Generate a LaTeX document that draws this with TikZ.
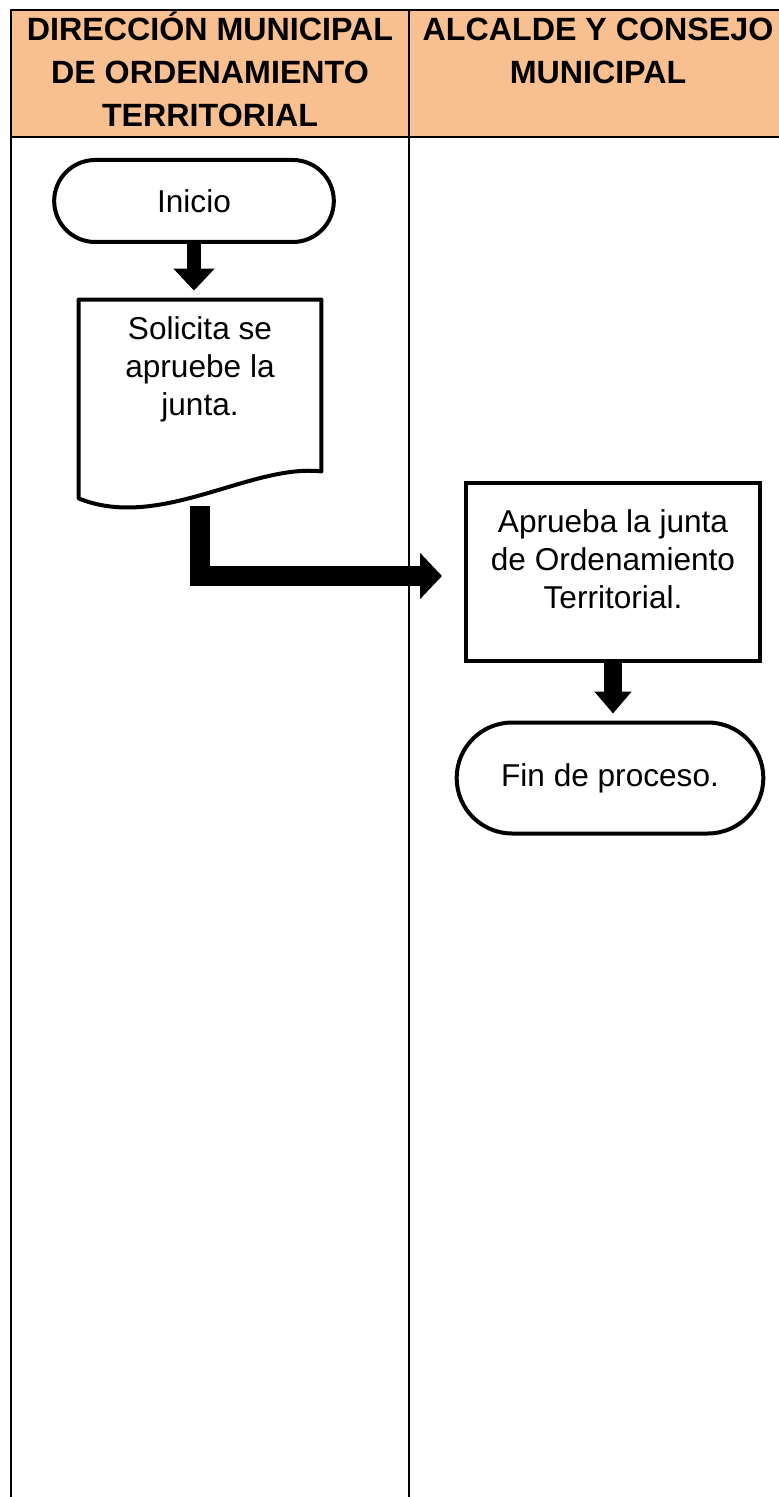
\documentclass[tikz,border=0pt]{standalone}
\usepackage{fontspec}
\setmainfont{Liberation Sans}
\usetikzlibrary{shapes,arrows.meta,positioning,calc}
\definecolor{headorange}{RGB}{248,192,144}

\begin{document}
\begin{tikzpicture}[
    x=0.5pt, y=-0.5pt,
    lane/.style={line width=1.25pt},
    headtxt/.style={align=center, inner sep=0pt, anchor=base, font=\bfseries\fontsize{16.1pt}{21.5pt}\selectfont},
    terminal/.style={rounded rectangle, draw, line width=2pt, font=\fontsize{15.8pt}{19pt}\selectfont},
    process/.style={rectangle, draw, line width=2pt, align=center, font=\fontsize{15.8pt}{19pt}\selectfont},
    doctxt/.style={rectangle, align=center, font=\fontsize{15.8pt}{19pt}\selectfont},
    flow/.style={-{Triangle[width=20pt,length=11pt]}, line width=7pt}
]
    \useasboundingbox (0,0) rectangle (778,1497);

    % Lanes
    \fill[headorange] (11,10) rectangle (800,137);
    \draw[lane] (11,1510) -- (11,10) -- (800,10);
    \draw[lane] (11,137) -- (800,137);
    \draw[lane] (409,10) -- (409,1510);
    \node[headtxt] (dmot) at (210,127) {DIRECCIÓN MUNICIPAL\\DE ORDENAMIENTO\\TERRITORIAL};
    \node[headtxt] (acm) at (598,84) {ALCALDE Y CONSEJO\\MUNICIPAL};

    % Start
    \node[terminal, minimum width=146.5pt, minimum height=41pt] (ini) at (194,201) {Inicio};

    % Document
    \node[doctxt, minimum width=121pt, minimum height=69pt] (sol) at (200,369) {Solicita se\\apruebe la\\junta.};
    \draw[line width=2pt, line join=round] (sol.north west) -- (sol.north east) -- ([yshift=-16.5pt]sol.south east)
        .. controls +(-35.5pt,4pt) and +(40.5pt,-16.5pt) .. ([yshift=-30pt]sol.south west) -- cycle;

    % Approval
    \node[process, minimum width=147pt, minimum height=89pt, text depth=13pt] (ap) at (613,572) {Aprueba la junta\\de Ordenamiento\\Territorial.};

    % End
    \node[terminal, minimum width=160pt, minimum height=55.5pt] (fin) at (610,778) {Fin de proceso.};

    % Edges
    \draw[flow, shorten >=4.5pt] (ini.south) -- (ini.south |- sol.north);
    \draw[flow, line width=10pt, -{Triangle[width=22.5pt,length=11pt]}] ([yshift=-34pt]sol.south) |- ([xshift=-11pt,yshift=-2pt]ap.west);
    \draw[flow, line width=9pt, -{Triangle[width=18pt,length=11pt]}, shorten >=3.5pt] (ap.south) -- (ap.south |- fin.north);
\end{tikzpicture}
\end{document}
